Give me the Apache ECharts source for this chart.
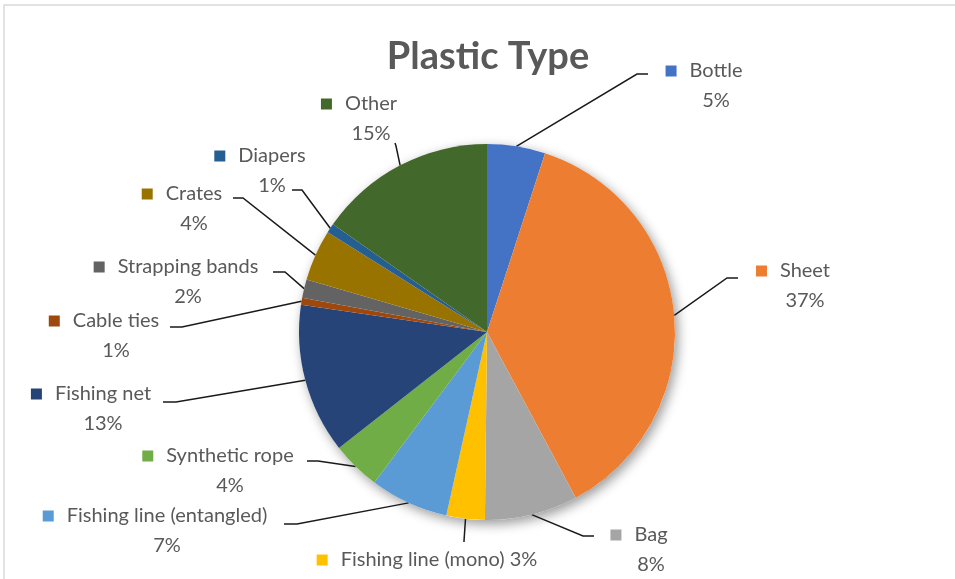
<!DOCTYPE html>
<html>
<head>
<meta charset="utf-8">
<script src="https://cdn.jsdelivr.net/npm/echarts@6/dist/echarts.min.js"></script>
<style>html,body{margin:0;padding:0;background:#fff}#c{width:955px;height:579px}</style>
</head>
<body>
<div id="c"></div>
<script>
// ---- data ----
const categories = ['Bottle','Sheet','Bag','Fishing line (mono)','Fishing line (entangled)','Synthetic rope','Fishing net','Cable ties','Strapping bands','Crates','Diapers','Other'];
const shares = [5.0, 37.2, 8.0, 3.3, 6.75, 4.2, 12.9, 0.6, 1.6, 4.4, 0.8, 15.3];
const colors = ['#4472C4','#ED7D31','#A5A5A5','#FFC000','#5B9BD5','#70AD47','#264478','#9E480E','#636363','#997300','#255E91','#43682B'];
const title = 'Plastic Type';

// ---- label layout (centre of each label block, leader elbow and end) ----
const labelPos = [
  {x:716, y:86,  p1:[637,74],  p2:[648,74]},
  {x:805, y:286, p1:[727,278], p2:[738,278]},
  {x:651, y:550, p1:[583,536], p2:[594,536]},
  {x:427, y:560, p1:[464,541], p2:[464,542], inline:true},
  {x:167, y:531, p1:[297,524], p2:[284,524]},
  {x:230, y:471, p1:[318,461], p2:[307,461]},
  {x:103, y:409, p1:[176,402], p2:[163,402]},
  {x:116, y:336, p1:[182,327], p2:[170,327]},
  {x:188, y:282, p1:[285,272], p2:[273,272]},
  {x:194, y:209, p1:[243,198], p2:[233,198]},
  {x:272, y:171, p1:[302,190], p2:[292,190]},
  {x:371, y:119, p1:[396,146], p2:[395,143]}
];

const FONT = 'Lato';
const TXT = '#595959';

const rich = {
  n: {fontFamily: FONT, fontSize: 20, color: TXT, lineHeight: 30},
  p: {fontFamily: FONT, fontSize: 20, color: TXT, lineHeight: 30},
  gap: {width: 13},
  sp: {width: 24}
};
colors.forEach((c, i) => { rich['sq' + i] = {width: 11, height: 11, backgroundColor: c}; });

const data = categories.map((name, i) => ({
  name: name,
  value: shares[i],
  itemStyle: {color: colors[i]}
}));

const chart = echarts.init(document.getElementById('c'), null, {renderer: 'canvas'});
chart.setOption({
  backgroundColor: '#ffffff',
  animation: false,
  title: {
    text: title,
    left: 483,
    top: 33,
    textAlign: 'center',
    textStyle: {fontFamily: FONT, fontSize: 38, fontWeight: 'bold', color: TXT}
  },
  graphic: [{
    type: 'rect',
    shape: {x: 4, y: 5, width: 1000, height: 620},
    style: {fill: 'none', stroke: '#d9d9d9', lineWidth: 1.5},
    silent: true, z: -10
  }],
  series: [
    {
      type: 'pie',
      silent: true,
      center: [487, 332],
      radius: 188,
      z: 1,
      label: {show: false},
      labelLine: {show: false},
      itemStyle: {color: '#ffffff', shadowBlur: 12, shadowColor: 'rgba(0,0,0,0.4)', shadowOffsetX: 3, shadowOffsetY: 4},
      data: [{value: 1, name: ''}]
    },
    {
      type: 'pie',
      center: [487, 332],
      radius: 188,
      startAngle: 90,
      clockwise: true,
      z: 2,
      avoidLabelOverlap: false,
      itemStyle: {borderWidth: 0},
      label: {
        show: true,
        position: 'outside',
        align: 'center',
        formatter: function (p) {
          const i = p.dataIndex;
          const pct = Math.round(p.percent) + '%';
          if (labelPos[i].inline) return '{sq' + i + '|}{gap|}{n|' + p.name + ' ' + pct + '}';
          return '{sq' + i + '|}{gap|}{n|' + p.name + '}{sp|}\n{p|' + pct + '}';
        },
        rich: rich
      },
      labelLine: {show: true, length: 10, length2: 10, lineStyle: {color: '#1a1a1a', width: 1.5}},
      labelLayout: function (params) {
        const i = params.dataIndex;
        const lp = labelPos[i];
        const pts = params.labelLinePoints;
        const start = pts && pts[0] ? pts[0] : lp.p1;
        return {
          x: lp.x, y: lp.y, align: 'center', verticalAlign: 'middle',
          labelLinePoints: [start, lp.p1, lp.p2]
        };
      },
      data: data
    }
  ]
});
</script>
</body>
</html>
